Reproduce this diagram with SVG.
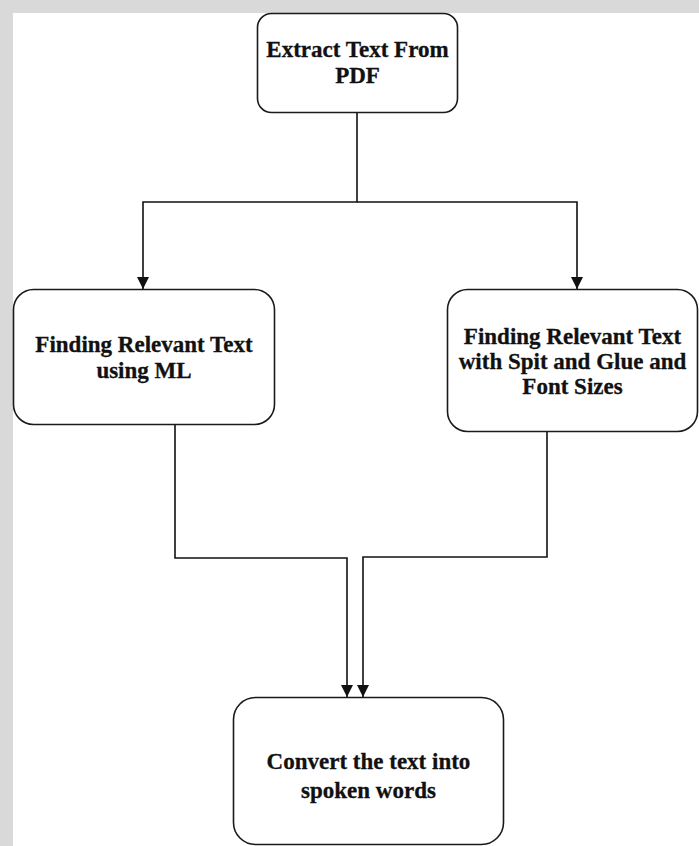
<svg xmlns="http://www.w3.org/2000/svg" width="699" height="846" viewBox="0 0 699 846">
  <style>
    .box { fill: #ffffff; stroke: #1a1a1a; stroke-width: 1.6; }
    .lbl { font-family: "Liberation Serif", "Times New Roman", serif; font-weight: bold; font-size: 23px; fill: #111111; text-anchor: middle; stroke: #111111; stroke-width: 0.3; }
    .conn { fill: none; stroke: #111111; stroke-width: 1.6; }
  </style>
  <defs>
    <marker id="arrow" viewBox="0 0 12 12" refX="12" refY="6" markerWidth="12" markerHeight="12" markerUnits="userSpaceOnUse" orient="auto">
      <path d="M0,0 L12,6 L0,12 Z" fill="#111111"/>
    </marker>
  </defs>
  <rect x="0" y="0" width="699" height="846" fill="#d9d9d9"/>
  <rect x="13" y="13" width="686" height="833" fill="#ffffff"/>

  <g id="connectors">
    <path class="conn" d="M357,113 V202 H143 V289" marker-end="url(#arrow)"/>
    <path class="conn" d="M357,202 H577 V289" marker-end="url(#arrow)"/>
    <path class="conn" d="M175,425 V558 H347 V697" marker-end="url(#arrow)"/>
    <path class="conn" d="M547,432 V557 H363 V697" marker-end="url(#arrow)"/>
  </g>

  <g id="extract">
    <rect class="box" x="257.5" y="13.5" width="200" height="99" rx="14"/>
    <text class="lbl" x="357.5" y="57">Extract Text From</text>
    <text class="lbl" x="357.5" y="83">PDF</text>
  </g>

  <g id="ml">
    <rect class="box" x="13.5" y="289.5" width="261" height="135" rx="20"/>
    <text class="lbl" x="144" y="352">Finding Relevant Text</text>
    <text class="lbl" x="144" y="378">using ML</text>
  </g>

  <g id="spit">
    <rect class="box" x="447.5" y="289.5" width="250" height="142" rx="20"/>
    <text class="lbl" x="572.5" y="344">Finding Relevant Text</text>
    <text class="lbl" x="572.5" y="369">with Spit and Glue and</text>
    <text class="lbl" x="572.5" y="394">Font Sizes</text>
  </g>

  <g id="convert">
    <rect class="box" x="233.5" y="697.5" width="270" height="147" rx="22"/>
    <text class="lbl" x="368.5" y="769">Convert the text into</text>
    <text class="lbl" x="368.5" y="798">spoken words</text>
  </g>
</svg>
